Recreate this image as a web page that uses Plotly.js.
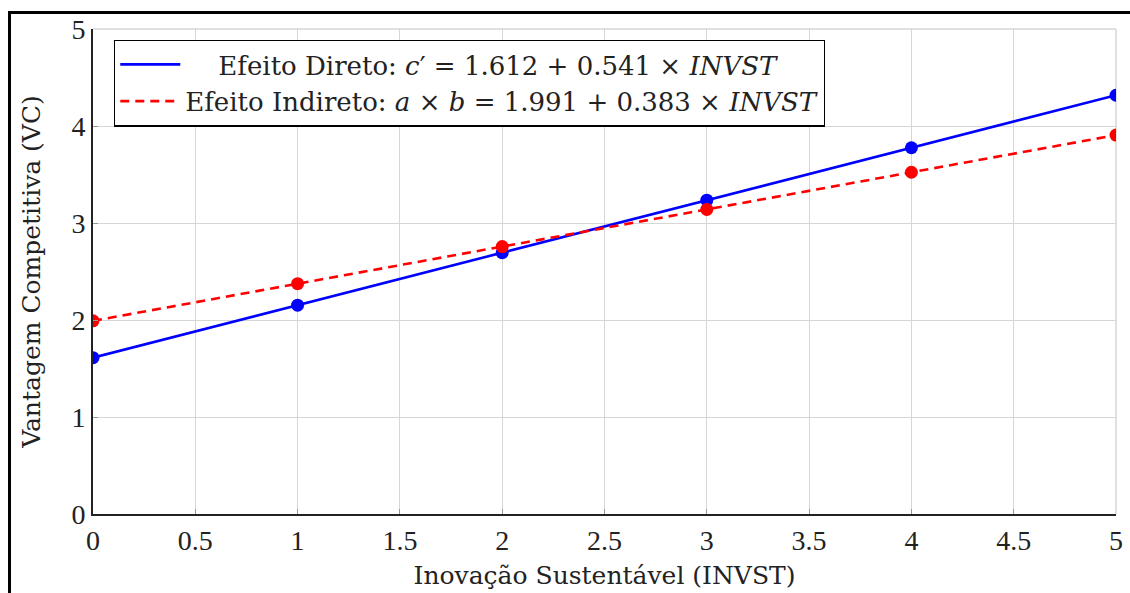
<!DOCTYPE html>
<html>
<head>
<meta charset="utf-8">
<script src="https://cdn.plot.ly/plotly-3.0.1.min.js"></script>
<style>
  html, body { margin: 0; padding: 0; background: #fff; }
  #wrap { position: relative; width: 1130px; height: 593px; overflow: hidden; }
  #chart { position: absolute; left: 0; top: 0; width: 1130px; height: 593px; }
  #frame { position: absolute; left: 8px; top: 11px; width: 1200px; height: 700px;
           border-top: 3px solid #000; border-left: 3px solid #000; pointer-events: none; }
</style>
</head>
<body>
<div id="wrap">
  <div id="chart"></div>
  <div id="frame"></div>
</div>
<script>
const invst = [0, 1, 2, 3, 4, 5];
const efeitoDireto = [1.612, 2.153, 2.694, 3.235, 3.776, 4.317];
const efeitoIndireto = [1.991, 2.374, 2.757, 3.140, 3.523, 3.906];
const xTicks = [0, 0.5, 1, 1.5, 2, 2.5, 3, 3.5, 4, 4.5, 5];
const xTickLabels = ['0', '0.5', '1', '1.5', '2', '2.5', '3', '3.5', '4', '4.5', '5'];
const yTicks = [0, 1, 2, 3, 4, 5];
const nameDireto = '\u00a0\u00a0\u00a0\u00a0Efeito Direto: <i>c</i>\u2032 = 1.612 + 0.541 \u00d7 <i>INVST</i>';
const nameIndireto = 'Efeito Indireto: <i>a</i> \u00d7 <i>b</i> = 1.991 + 0.383 \u00d7 <i>INVST</i>';
const xTitle = 'Inovação Sustentável (INVST)';
const yTitle = 'Vantagem Competitiva (VC)';

const TICKFONT = "'Liberation Serif', serif";
const TEXTFONT = "'DejaVu Serif', serif";
const BLUE = '#0000ff';
const RED = '#ff0000';
const INK = '#222';

const traces = [
  { x: invst, y: efeitoDireto, mode: 'lines', name: nameDireto,
    line: { color: BLUE, width: 2.6 }, showlegend: true },
  { x: invst, y: efeitoIndireto, mode: 'lines', name: nameIndireto,
    line: { color: RED, width: 2.6, dash: '9px,6px' }, showlegend: true },
  { x: invst, y: efeitoDireto, mode: 'markers', showlegend: false, hoverinfo: 'skip',
    marker: { color: BLUE, size: 13 } },
  { x: invst, y: efeitoIndireto, mode: 'markers', showlegend: false, hoverinfo: 'skip',
    marker: { color: RED, size: 13 } }
];

const layout = {
  width: 1130, height: 593,
  margin: { l: 93, r: 14, t: 29, b: 79, pad: 0 },
  paper_bgcolor: '#fff', plot_bgcolor: '#fff',
  font: { family: TEXTFONT, size: 26, color: INK },
  showlegend: true,
  legend: {
    x: 0.0205, y: 0.978, xanchor: 'left', yanchor: 'top',
    bgcolor: '#fff', bordercolor: '#000', borderwidth: 1.3,
    font: { family: TEXTFONT, size: 26, color: INK },
    tracegroupgap: 0, itemwidth: 60, traceorder: 'normal'
  },
  xaxis: {
    range: [0, 5], tickmode: 'array', tickvals: xTicks, ticktext: xTickLabels,
    showgrid: true, gridcolor: '#d6d6d6', gridwidth: 1,
    zeroline: false, showline: true, linecolor: INK, linewidth: 2,
    ticks: 'inside', ticklen: 5, tickcolor: '#999', tickwidth: 1,
    tickfont: { family: TICKFONT, size: 28, color: INK },
    title: { text: xTitle, font: { family: TEXTFONT, size: 25, color: INK }, standoff: 12 },
    fixedrange: true
  },
  yaxis: {
    range: [0, 5], tickmode: 'array', tickvals: yTicks,
    showgrid: true, gridcolor: '#d6d6d6', gridwidth: 1,
    zeroline: false, showline: true, linecolor: INK, linewidth: 2,
    ticks: 'inside', ticklen: 5, tickcolor: '#999', tickwidth: 1,
    tickfont: { family: TICKFONT, size: 28, color: INK },
    title: { text: yTitle, font: { family: TEXTFONT, size: 25, color: INK }, standoff: 24 },
    fixedrange: true
  },
  shapes: [
    { type: 'line', xref: 'paper', yref: 'paper', x0: 0, x1: 1, y0: 1, y1: 1,
      line: { color: '#d6d6d6', width: 1.5 }, layer: 'below' },
    { type: 'line', xref: 'paper', yref: 'paper', x0: 1, x1: 1, y0: 0, y1: 1,
      line: { color: '#d6d6d6', width: 1.5 }, layer: 'below' }
  ]
};

Plotly.newPlot('chart', traces, layout, { staticPlot: true, displayModeBar: false });
</script>
</body>
</html>
